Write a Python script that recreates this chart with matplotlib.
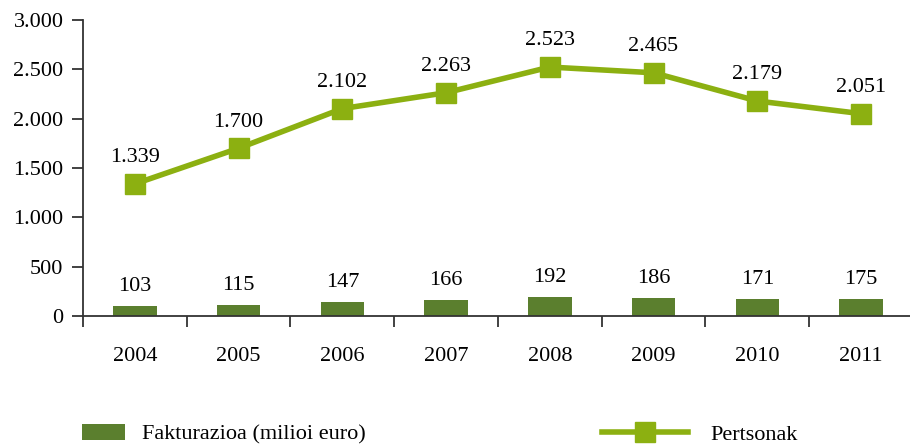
import numpy as np
import matplotlib
matplotlib.use("Agg")
import matplotlib.pyplot as plt
from matplotlib.ticker import FuncFormatter, FixedLocator

plt.rcParams['font.family'] = ['Liberation Serif', 'DejaVu Serif']

years = ['2004', '2005', '2006', '2007', '2008', '2009', '2010', '2011']
fakturazioa = [103, 115, 147, 166, 192, 186, 171, 175]
pertsonak = [1339, 1700, 2102, 2263, 2523, 2465, 2179, 2051]

bar_color = '#5b7f2e'
line_color = '#8cb011'
fs = 16


def dotted(v):
    return f"{int(v):,}".replace(',', '.')


fig = plt.figure(figsize=(9.1, 4.48), dpi=100)
ax = fig.add_axes([0.0912, 0.2946, 0.912, 0.6608])

x = np.arange(len(years))
bars = ax.bar(x, fakturazioa, width=0.42, color=bar_color, zorder=2,
              label='Fakturazioa (milioi euro)')
line, = ax.plot(x, pertsonak, color=line_color, lw=4, marker='s', ms=15,
                zorder=3, label='Pertsonak')

for xi, v in zip(x, fakturazioa):
    ax.annotate(str(v), (xi, v), xytext=(0, 7), textcoords='offset points',
                ha='center', va='bottom', fontsize=fs)
for xi, v in zip(x, pertsonak):
    ax.annotate(dotted(v), (xi, v), xytext=(0, 12), textcoords='offset points',
                ha='center', va='bottom', fontsize=fs)

ax.set_xlim(-0.5, len(years) - 0.5)
ax.set_ylim(0, 3000)
ax.set_yticks(np.arange(0, 3001, 500))
ax.yaxis.set_major_formatter(FuncFormatter(lambda v, p: dotted(v)))

ax.set_xticks(x)
ax.set_xticklabels(years)
ax.xaxis.set_minor_locator(FixedLocator(np.arange(-0.5, len(years) - 1, 1.0)))
ax.tick_params(axis='x', which='major', length=0, pad=22, labelsize=fs)
ax.tick_params(axis='x', which='minor', length=8, width=1.3, color='#333333')
ax.tick_params(axis='y', length=8, width=1.3, color='#333333', labelsize=fs, pad=6)

for s in ['top', 'right']:
    ax.spines[s].set_visible(False)
for s in ['left', 'bottom']:
    ax.spines[s].set_linewidth(1.3)
    ax.spines[s].set_color('#333333')

fig.legend(handles=[bars], loc='center left', bbox_to_anchor=(0.09, 0.03),
           frameon=False, fontsize=fs, handlelength=1.95, handleheight=0.7,
           handletextpad=0.75, borderpad=0, borderaxespad=0)
fig.legend(handles=[line], loc='center left', bbox_to_anchor=(0.662, 0.03),
           frameon=False, fontsize=fs, handlelength=3.85,
           handletextpad=1.0, borderpad=0, borderaxespad=0)

fig.savefig('out.png', dpi=100)
